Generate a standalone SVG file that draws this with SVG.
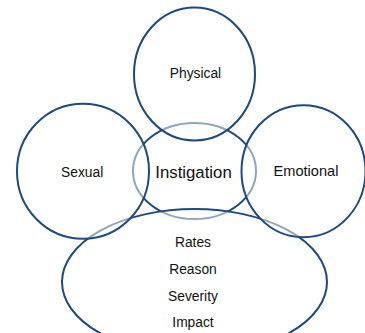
<svg xmlns="http://www.w3.org/2000/svg" width="365" height="333" viewBox="0 0 365 333">
<style>
.shape{fill:#ffffff;fill-opacity:0.5;stroke:#1f487c;stroke-width:2}
text{font-family:"Liberation Sans",Arial,sans-serif;fill:#111111;text-anchor:middle}
.lbl{font-size:13.8px}
.big{font-size:16.8px}
</style>
<rect width="365" height="333" fill="#ffffff"/>
<g id="instigation">
<ellipse class="shape" cx="194.5" cy="171" rx="61.5" ry="48"/>
<text class="big" x="193.5" y="178">Instigation</text>
</g>
<g id="outcomes">
<ellipse class="shape" cx="194.5" cy="282" rx="132.5" ry="73"/>
<text class="lbl" x="193" y="247.3">Rates</text>
<text class="lbl" x="193" y="274">Reason</text>
<text class="lbl" x="193" y="300.7">Severity</text>
<text class="lbl" x="193" y="326.7">Impact</text>
</g>
<g id="physical">
<ellipse class="shape" cx="194.5" cy="74" rx="60.5" ry="66.5"/>
<text class="lbl" x="195.5" y="78">Physical</text>
</g>
<g id="sexual">
<ellipse class="shape" cx="83" cy="171.3" rx="66" ry="67.5"/>
<text class="lbl" x="82.2" y="176.7">Sexual</text>
</g>
<g id="emotional">
<ellipse class="shape" cx="303.5" cy="171.2" rx="62" ry="66"/>
<text class="lbl" x="306" y="176" style="font-size:14.6px">Emotional</text>
</g>
<g id="connectors"></g>
</svg>
